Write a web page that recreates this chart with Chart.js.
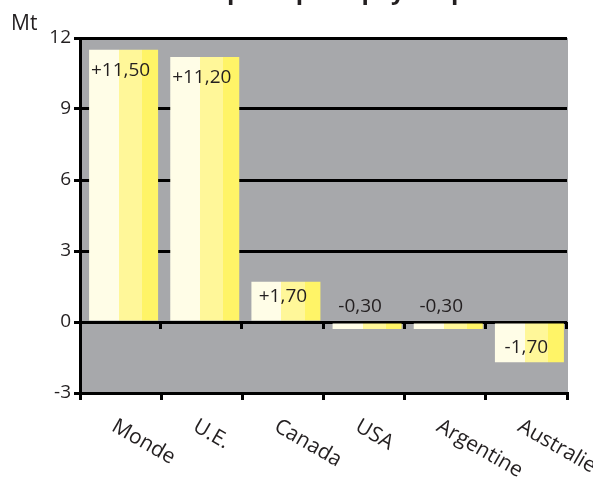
<!DOCTYPE html>
<html lang="fr">
<head>
<meta charset="utf-8">
<title>Variation des stocks</title>
<script src="https://cdn.jsdelivr.net/npm/chart.js@4.4.1/dist/chart.umd.min.js"></script>
<style>
  html, body { margin: 0; padding: 0; background: #ffffff; }
  canvas { display: block; }
</style>
</head>
<body>
<canvas id="chart" width="593" height="480"></canvas>
<script>
// Data
const categories = ['Monde', 'U.E.', 'Canada', 'USA', 'Argentine', 'Australie'];
const variations = [11.5, 11.2, 1.7, -0.3, -0.3, -1.7];
const yTickValues = [-3, 0, 3, 6, 9, 12];
const unitLabel = 'Mt';
const titleText = 'Variation des stocks des principaux pays exportateurs';

// Styles
const INK = '#231f20';
const PLOT_BG = '#a7a8ab';
const STRIPE_COLORS = ['#fffde7', '#fff799', '#fff467'];
const BAR_PCT = 0.85;
const FONT = '"Open Sans", "Noto Sans", sans-serif';

function fmt(v) {
  return (v > 0 ? '+' : '') + v.toFixed(2).replace('.', ',');
}

// Three vertical stripes across each bar
function stripedFill(ctx) {
  const chart = ctx.chart;
  const xs = chart.scales.x;
  if (!xs || !chart.chartArea) return STRIPE_COLORS[0];
  const w = (xs.right - xs.left) / categories.length * BAR_PCT;
  const cx = xs.getPixelForValue(ctx.dataIndex);
  const g = chart.ctx.createLinearGradient(cx - w / 2, 0, cx + w / 2, 0);
  g.addColorStop(0, STRIPE_COLORS[0]);
  g.addColorStop(0.435, STRIPE_COLORS[0]);
  g.addColorStop(0.435, STRIPE_COLORS[1]);
  g.addColorStop(0.77, STRIPE_COLORS[1]);
  g.addColorStop(0.77, STRIPE_COLORS[2]);
  g.addColorStop(1, STRIPE_COLORS[2]);
  return g;
}

const decorations = {
  id: 'decorations',
  beforeDraw(chart) {
    const { ctx, chartArea: a } = chart;
    ctx.save();
    ctx.fillStyle = PLOT_BG;
    ctx.fillRect(a.left, a.top, a.right - a.left + 1, a.bottom - a.top);
    ctx.restore();
  },
  beforeDatasetsDraw(chart) {
    chart.ctx.save();
    chart.ctx.translate(3, 0);
  },
  afterDatasetsDraw(chart) {
    const ctx = chart.ctx;
    ctx.restore();
    const xs = chart.scales.x;
    const ys = chart.scales.y;
    const zero = Math.round(ys.getPixelForValue(0));

    // small tick marks hanging under the zero line at category boundaries
    ctx.save();
    ctx.strokeStyle = '#000';
    ctx.lineWidth = 3;
    const step = (xs.right - xs.left) / categories.length;
    for (let i = 1; i <= categories.length; i++) {
      const x = Math.round(xs.left + step * i) - 0.5;
      ctx.beginPath();
      ctx.moveTo(x, zero);
      ctx.lineTo(x, zero + 7);
      ctx.stroke();
    }
    ctx.restore();

    // value labels
    const meta = chart.getDatasetMeta(0);
    ctx.save();
    ctx.fillStyle = INK;
    ctx.font = '19px ' + FONT;
    ctx.textAlign = 'center';
    ctx.textBaseline = 'middle';
    meta.data.forEach((el, i) => {
      const v = variations[i];
      const h = Math.abs(el.base - el.y);
      let x = el.x;
      let y;
      if (h < 20) {
        y = el.base + (v < 0 ? -16.5 : 16.5);
        x -= 4;
      } else if (v >= 0) {
        y = el.y + Math.min(20.5, h * 0.39);
      } else {
        y = el.y - Math.min(20.5, h * 0.39);
      }
      ctx.fillText(fmt(v), x, y);
    });
    ctx.restore();
  },
  afterDraw(chart) {
    const ctx = chart.ctx;
    const xs = chart.scales.x;
    ctx.save();
    ctx.fillStyle = INK;

    // slanted category names
    ctx.font = '21px ' + FONT;
    ctx.textAlign = 'left';
    ctx.textBaseline = 'alphabetic';
    categories.forEach((c, i) => {
      const x = xs.getPixelForValue(i) - 10;
      ctx.save();
      ctx.translate(x, 430);
      ctx.rotate(30 * Math.PI / 180);
      ctx.fillText(c, 0, 0);
      ctx.restore();
    });

    // unit
    ctx.font = '21px ' + FONT;
    ctx.fillText(unitLabel, 11, 30);

    // title (sits above the canvas edge)
    ctx.font = 'bold 24px ' + FONT;
    const prefix = titleText.slice(0, titleText.indexOf('principaux'));
    const startX = 227 - ctx.measureText(prefix).width;
    ctx.fillText(titleText, startX, -1);
    ctx.restore();
  }
};

new Chart(document.getElementById('chart'), {
  type: 'bar',
  data: {
    labels: categories,
    datasets: [{
      data: variations,
      backgroundColor: stripedFill,
      borderWidth: 0,
      barPercentage: BAR_PCT,
      categoryPercentage: 1
    }]
  },
  options: {
    responsive: false,
    animation: false,
    devicePixelRatio: 1,
    layout: { padding: { top: 38, right: 26, bottom: 0, left: 0 } },
    plugins: {
      legend: { display: false },
      tooltip: { enabled: false },
      title: { display: false }
    },
    scales: {
      x: {
        afterFit(scale) { scale.height = 87; },
        ticks: { display: false },
        grid: {
          display: true,
          offset: true,
          drawOnChartArea: false,
          drawTicks: true,
          tickLength: 7,
          lineWidth: 3,
          color: '#000',
          tickColor: '#000'
        },
        border: { display: true, color: '#000', width: 3 }
      },
      y: {
        min: -3,
        max: 12,
        afterFit(scale) { scale.width = 80; },
        afterBuildTicks(scale) { scale.ticks = yTickValues.map(v => ({ value: v })); },
        ticks: {
          color: INK,
          font: { family: FONT, size: 19 },
          padding: 3
        },
        grid: {
          color: '#000',
          lineWidth: 3,
          drawTicks: true,
          tickLength: 6,
          tickColor: '#000'
        },
        border: { display: true, color: '#000', width: 3 }
      }
    }
  },
  plugins: [decorations]
});
</script>
</body>
</html>
